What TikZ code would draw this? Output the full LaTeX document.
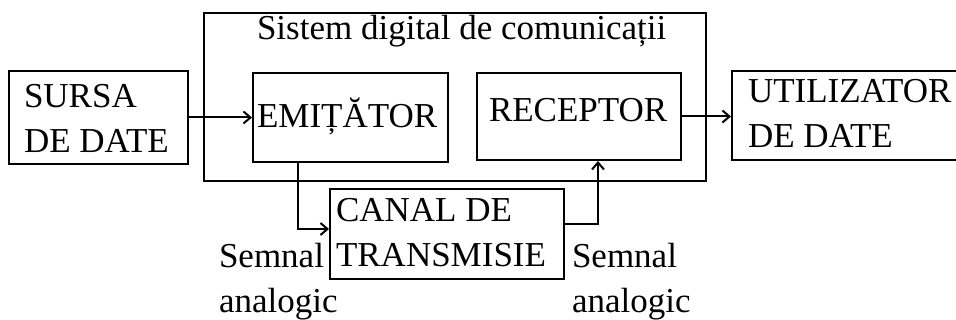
\documentclass[tikz,border=0pt]{standalone}
\usepackage{fontspec}
\setmainfont{Liberation Serif}
\usetikzlibrary{positioning, arrows.meta}

\begin{document}
\begin{tikzpicture}[
            x=1pt, y=1pt,
            line width=2pt,
            >={Straight Barb[length=7pt, width=12pt]},
            box/.style={draw, rectangle, inner sep=0pt},
            txt/.style={inner sep=0pt, anchor=base west, align=left,
                font=\fontsize{35}{45}\selectfont},
            wire/.style={->, line width=2pt}
        ]

            \useasboundingbox (0,0) rectangle (956,320);

            % Outer system box and title
            \node[box, minimum width=502, minimum height=168] (sistem) at (455,223) {};
            \node[txt] (titlu) at (256,280) {Sistem digital de comunicații};

            % Blocks
            \node[box, minimum width=179, minimum height=93] (sursa) at (98.5,202.5) {};
            \node[box, minimum width=195, minimum height=89] (emit) at (350.5,202.5) {};
            \node[box, minimum width=204, minimum height=87] (recept) at (579,203.5) {};
            \node[box, minimum width=230, minimum height=89] (util) at (847,204.5) {};
            \node[box, minimum width=234, minimum height=90] (canal) at (447,86) {};

            % Block texts (base = last line)
            \node[txt] (sursaT) at (23,167) {SURSA\\DE DATE};
            \node[txt] (emitT) at (256,192) {EMIȚĂTOR};
            \node[txt] (receptT) at (488,198) {RECEPTOR};
            \node[txt] (utilT) at (747,172) {UTILIZATOR\\DE DATE};
            \node[txt] (canalT) at (335,53) {CANAL DE\\TRANSMISIE};

            % Signal labels
            \node[txt] (semnalA) at (218,7) {Semnal\\analogic};
            \node[txt] (semnalB) at (571,7) {Semnal\\analogic};

            % Connections
            \draw[wire] (sursa.east) -- (emit.west);
            \draw[wire] (recept.east) -- (recept.east -| util.west);
            \draw[wire] ([xshift=-52.5pt]emit.south) |- ([yshift=5pt]canal.west);
            \draw[wire] ([yshift=10pt]canal.east) -| ([xshift=19pt]recept.south);

        \end{tikzpicture}
\end{document}
